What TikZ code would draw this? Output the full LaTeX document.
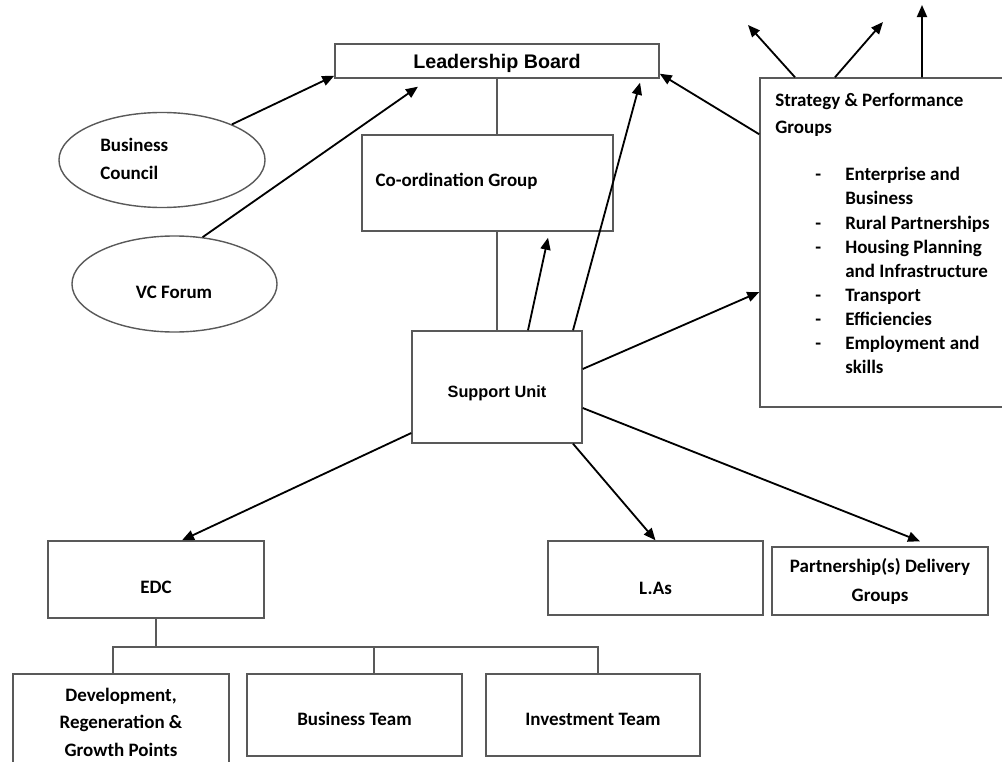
\documentclass[tikz,border=0pt]{standalone}
\usepackage{fontspec}
\setmainfont{Carlito}
\newfontfamily\arialfont{Liberation Sans}
\usetikzlibrary{shapes.geometric,arrows.meta}

\begin{document}
\begin{tikzpicture}[x=0.025cm,y=-0.025cm,
        box/.style={draw=black!65, line width=1pt, rectangle, inner sep=0pt,
                        font=\bfseries\fontsize{13.5pt}{17pt}\selectfont},
        oval/.style={ellipse, draw=black!65, line width=1pt, inner sep=0pt},
        lbl/.style={inner sep=0pt, font=\bfseries\fontsize{13.5pt}{17.07pt}\selectfont},
        arr/.style={draw=black, line width=1.3pt,
                        -{Triangle[length=0.3cm,width=0.25cm]}},
        link/.style={draw=black!65, line width=1pt}]
    \useasboundingbox (0,0) rectangle (1002,762);
    \clip (0,0) rectangle (1002,762);
    % top of the chart
    \node[box, minimum width=8.1cm, minimum height=0.85cm,
        font=\arialfont\bfseries\fontsize{14pt}{16pt}\selectfont]
        (lead) at (497,61) {\raisebox{-0.18cm}[0pt][0pt]{Leadership Board}};
    \node[box, minimum width=6.275cm, minimum height=2.4cm] (coord) at (487.5,183) {};
    \node[lbl, anchor=west] (coordtxt) at ([xshift=0.35cm,yshift=0.05cm]coord.west)
        {Co-ordination Group};
    \node[box, minimum width=4.25cm, minimum height=2.8cm,
        font=\arialfont\bfseries\fontsize{11.6pt}{14pt}\selectfont]
        (sup) at (497,387) {\raisebox{-0.27cm}[0pt][0pt]{Support Unit}};
    % councils
    \node[oval, minimum width=5.15cm, minimum height=2.375cm] (bc) at (162,160) {};
    \node[lbl, anchor=west, align=left, font=\bfseries\fontsize{13.5pt}{19.8pt}\selectfont]
        (bctxt) at (100,159) {Business\\Council};
    \node[oval, minimum width=5.125cm, minimum height=2.4cm] (vc) at (174.5,284) {};
    \node[lbl] (vctxt) at (174,292) {VC Forum};
    % strategy groups
    \node[box, minimum width=6.25cm, minimum height=8.225cm] (strat) at (885,242.5) {};
    \node[lbl, anchor=base west] (strat1) at (775,107) {Strategy \& Performance};
    \node[lbl, anchor=base west] (strat2) at (775,134) {Groups};
    \foreach \y in {181,229,253,301,325,349}
        \node[lbl, anchor=base west] (dash\y) at (815,\y) {-};
    \foreach \y/\t [count=\i] in {181/Enterprise and, 205/Business,
            229/Rural Partnerships, 253/Housing Planning,
            277/and Infrastructure, 301/Transport, 325/Efficiencies,
            349/Employment and, 373/skills}
        \node[lbl, anchor=base west] (item\i) at (845,\y) {\t};
    \coordinate (up1) at (748,25);
    \coordinate (up2) at (883,22);
    \coordinate (up3) at (922,5);
    % lower boxes
    \node[box, minimum width=5.4cm, minimum height=1.925cm] (edc) at (156,579.5)
        {\raisebox{-0.34cm}[0pt][0pt]{EDC}};
    \node[box, minimum width=5.375cm, minimum height=1.85cm] (las) at (655.5,578)
        {\raisebox{-0.4cm}[0pt][0pt]{L.As}};
    \node[box, minimum width=5.4cm, minimum height=1.7cm, align=center,
        font=\bfseries\fontsize{13.5pt}{20.6pt}\selectfont]
        (partner) at (880,581) {Partnership(s) Delivery\\Groups};
    \node[box, minimum width=5.4cm, minimum height=3.15cm] (dev) at (121,737) {};
    \node[lbl, align=center, font=\bfseries\fontsize{13.5pt}{19.5pt}\selectfont]
        (devtxt) at (121,722) {Development,\\Regeneration \&\\Growth Points};
    \node[box, minimum width=5.375cm, minimum height=2.05cm] (bteam) at (354.5,715)
        {\raisebox{-0.27cm}[0pt][0pt]{Business Team}};
    \node[box, minimum width=5.35cm, minimum height=2.05cm] (invest) at (593,715)
        {\raisebox{-0.27cm}[0pt][0pt]{Investment Team}};
    \coordinate (tree) at (156,647);

    % plain links
    \draw[link] (lead.south) -- (lead.south |- coord.north);
    \draw[link] (sup.north |- coord.south) -- (sup.north);
    \draw[link] (edc.south) -- (tree);
    \draw[link] ([xshift=-0.2cm]dev.north) |- (tree) -| ([xshift=0.125cm]invest.north);
    \draw[link] ([xshift=0.4875cm]bteam.north) -- ([xshift=0.4875cm]bteam.north |- tree);

    % arrows
    \draw[arr] (bc.27) -- ([yshift=0.075cm]lead.south west);
    \draw[arr] (vc.59) -- ([shift={(-1.975cm,-0.2cm)}]lead.south);
    \draw[arr] ([yshift=-1.425cm]strat.north west) -- ([yshift=0.125cm]lead.south east);
    \draw[arr] ([xshift=0.775cm]sup.north) -- ([shift={(1.5125cm,-0.15cm)}]coord.south);
    \draw[arr] ([xshift=1.9cm]sup.north) -- ([shift={(3.575cm,-0.1cm)}]lead.south);
    \draw[arr] ([yshift=0.45cm]sup.east) -- ([yshift=-1.2375cm]strat.west);
    \draw[arr] ([yshift=-1.15cm]sup.west) -- ([xshift=0.65cm]edc.north);
    \draw[arr] ([xshift=1.9cm]sup.south) -- (las.north);
    \draw[arr] ([yshift=-0.525cm]sup.east) -- ([shift={(1cm,0.125cm)}]partner.north);
    \draw[arr] ([xshift=-2.25cm]strat.north) -- (up1);
    \draw[arr] ([xshift=-1.25cm]strat.north) -- (up2);
    \draw[arr] ([xshift=0.925cm]strat.north) -- (up3);
\end{tikzpicture}
\end{document}
